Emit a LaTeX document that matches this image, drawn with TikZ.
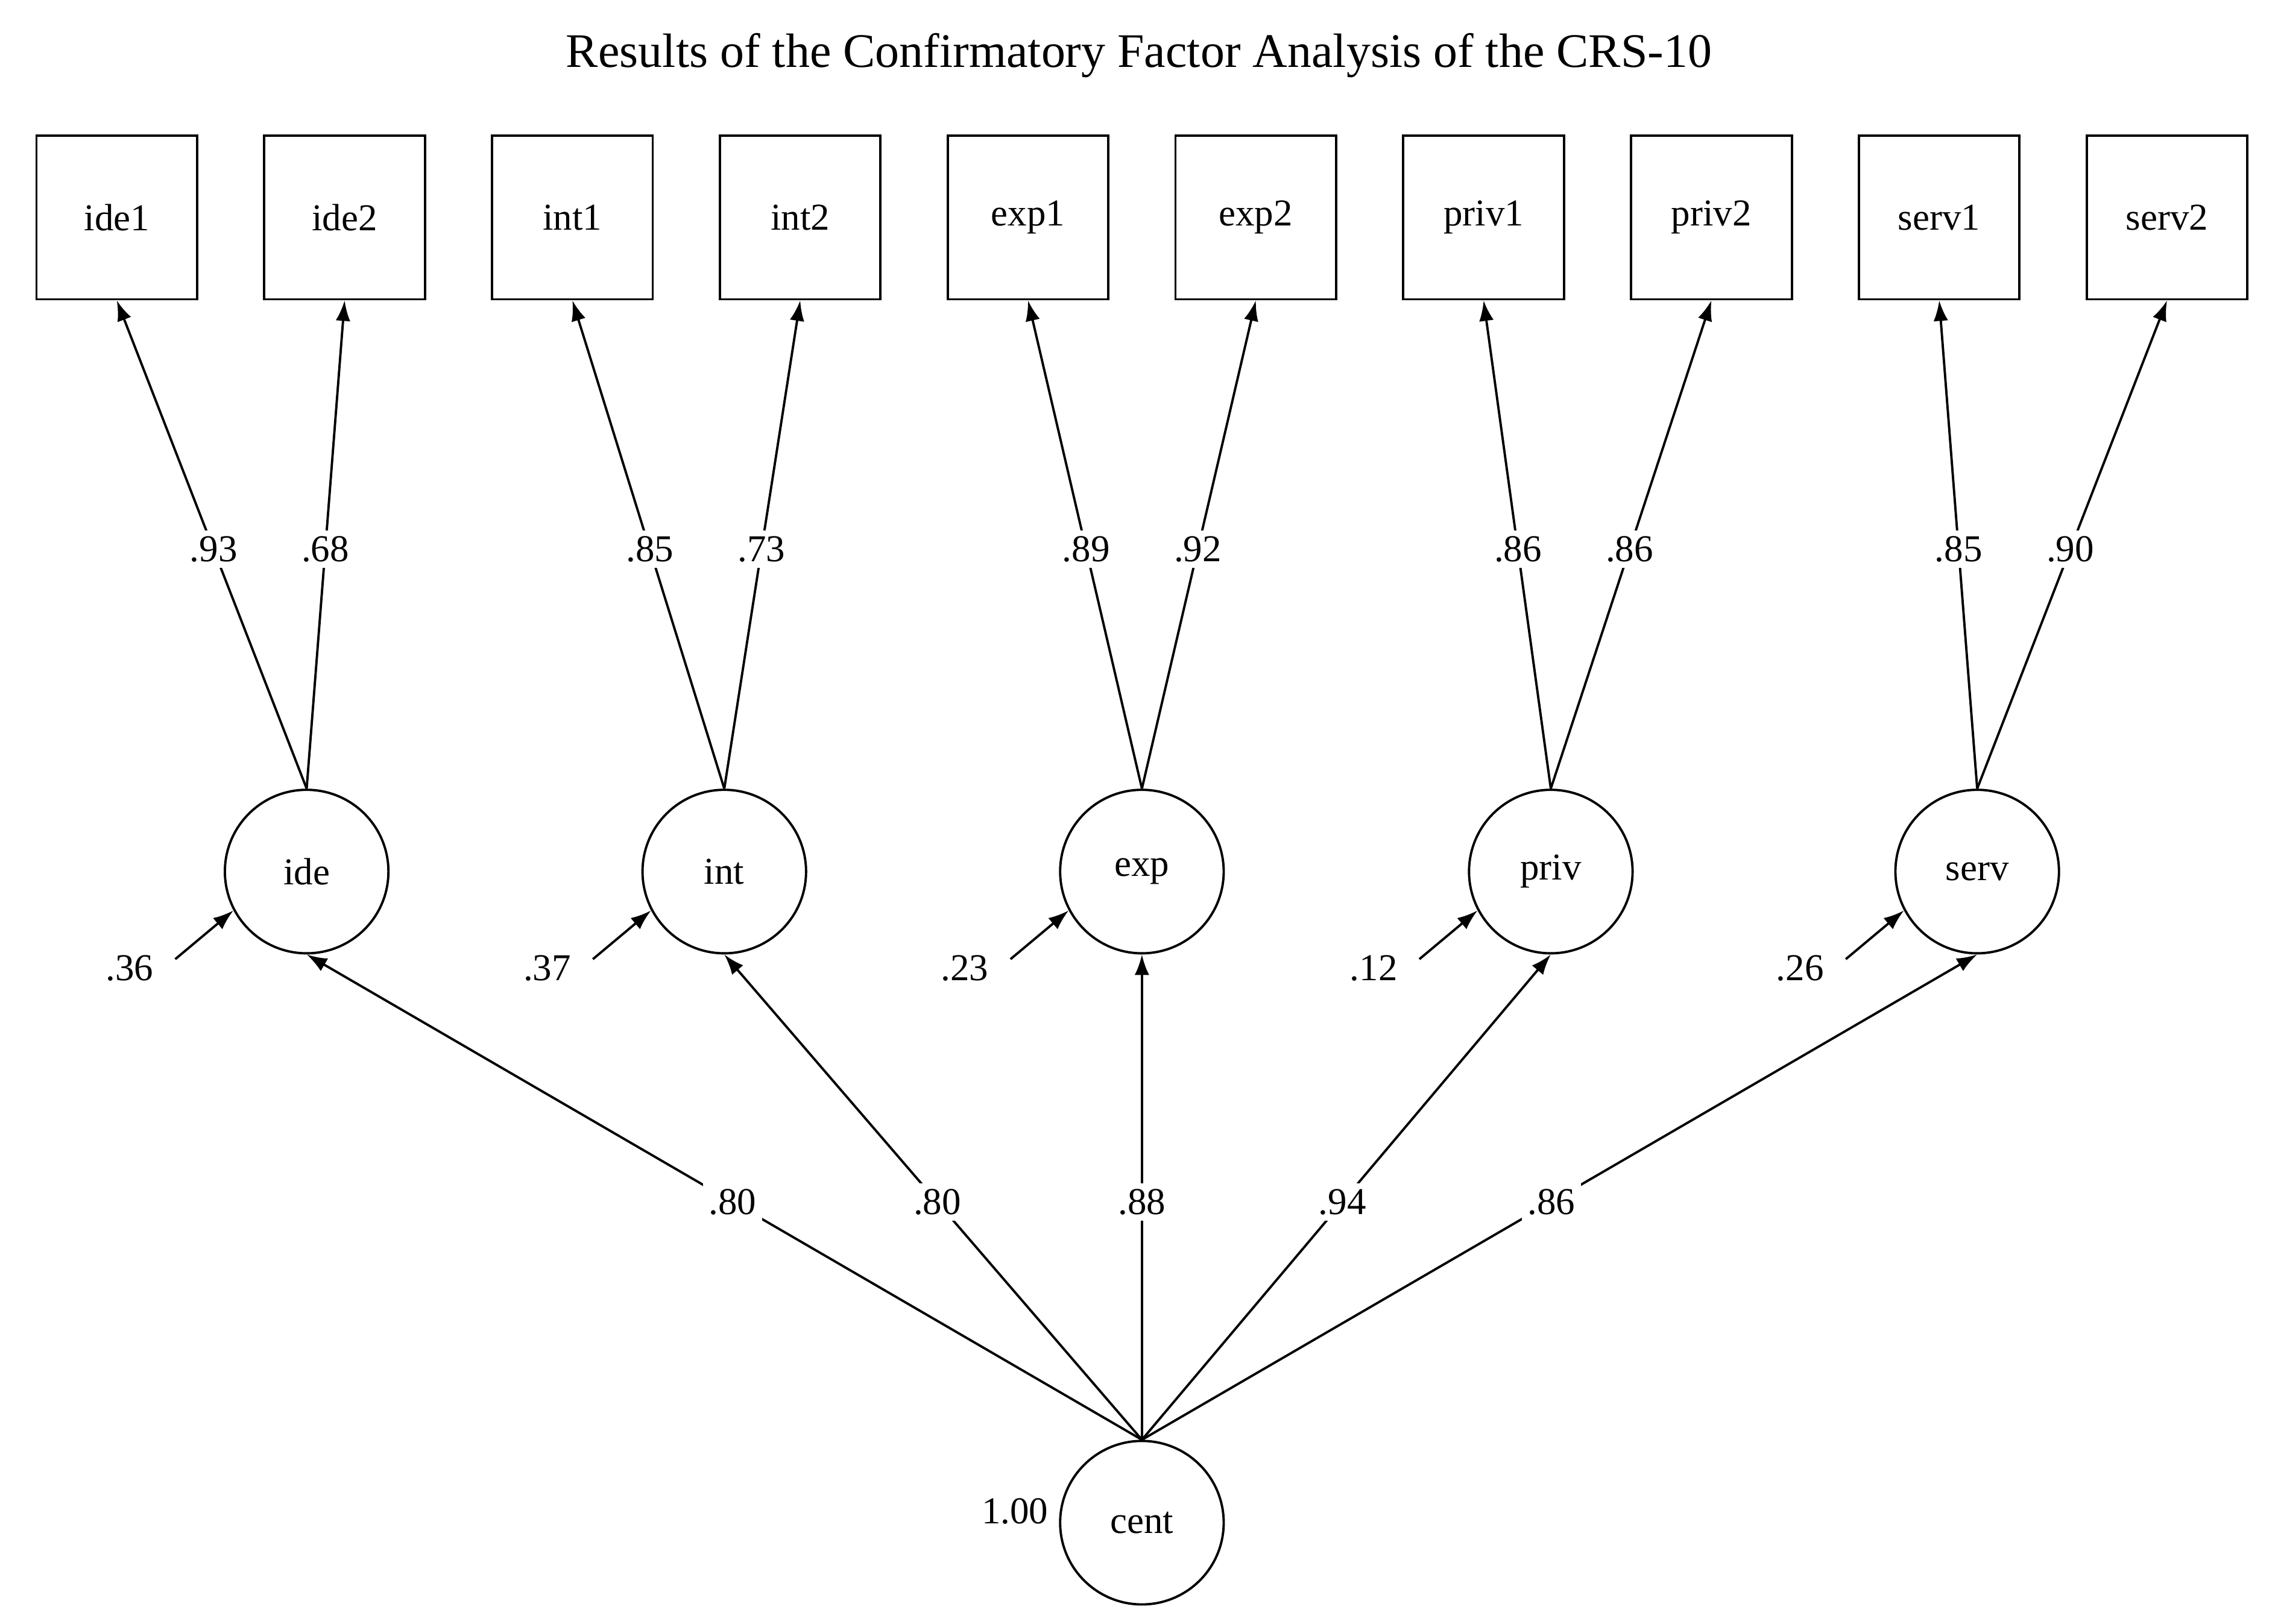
\documentclass[tikz,border=0pt]{standalone}
\usepackage{fontspec}
\setmainfont{Liberation Serif}
\usetikzlibrary{arrows.meta}
\begin{document}
\begin{tikzpicture}[x=0.5pt,y=-0.5pt,
  obs/.style={draw,line width=0.8pt,minimum width=55pt,minimum height=56pt,font=\fontsize{13}{15}\selectfont},
  lat/.style={draw,circle,line width=0.8pt,minimum size=56pt,inner sep=0pt,font=\fontsize{13}{15}\selectfont},
  arr/.style={line width=0.8pt,-{Latex[length=7pt,width=5pt]}},
  lab/.style={fill=white,inner sep=2pt,font=\fontsize{13}{15}\selectfont}]
\useasboundingbox (0,0) rectangle (1560,1112);
\node[font=\fontsize{16.5}{19}\selectfont] (title) at (780,38) {Results of the Confirmatory Factor Analysis of the CRS-10};
\foreach \n/\x in {ide1/80,ide2/236,int1/392,int2/548,exp1/704,exp2/860,priv1/1016,priv2/1172,serv1/1328,serv2/1484}
  \node[obs] (\n) at (\x,149) {\n};
\foreach \n/\x in {ide/210,int/496,exp/782,priv/1062,serv/1354}
  \node[lat] (\n) at (\x,597) {\n};
\node[lat] (cent) at (782,1043) {cent};
\node[font=\fontsize{13}{15}\selectfont] (v) at (695,1035) {1.00};
% loadings
\foreach \l/\a/\b/\va/\vb in {ide/ide1/ide2/.93/.68,int/int1/int2/.85/.73,exp/exp1/exp2/.89/.92,priv/priv1/priv2/.86/.86,serv/serv1/serv2/.85/.90}{
  \draw[arr] (\l.north) -- node[lab,pos=0.49]{\va} (\a.south);
  \draw[arr] (\l.north) -- node[lab,pos=0.49]{\vb} (\b.south);
}
% structural
\foreach \l/\v in {ide/.80,int/.80,exp/.88,priv/.94,serv/.86}
  \draw[arr] (cent.north) -- node[lab,pos=0.49]{\v} (\l.south);
% residuals
\foreach \l/\v in {ide/.36,int/.37,exp/.23,priv/.12,serv/.26}{
  \node[font=\fontsize{13}{15}\selectfont,anchor=east] (r\l) at ([xshift=-49pt,yshift=-33pt]\l.center) {\v};
  \draw[arr] ([xshift=-45pt,yshift=-30pt]\l.center) coordinate (s\l) -- (\l.208);
}
\end{tikzpicture}
\end{document}
